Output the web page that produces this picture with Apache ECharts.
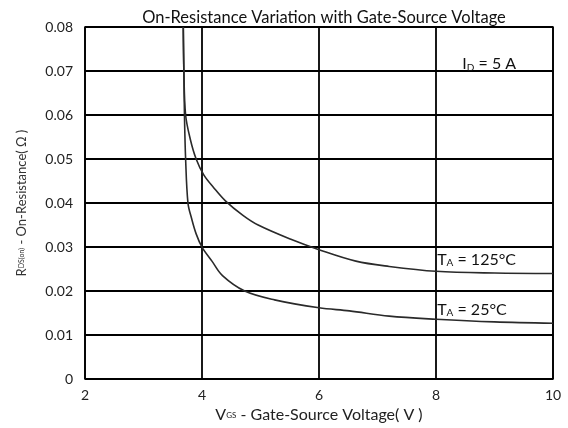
<!DOCTYPE html>
<html>
<head>
<meta charset="utf-8">
<script src="https://cdn.jsdelivr.net/npm/echarts@6/dist/echarts.min.js"></script>
<style>
  html, body { margin: 0; padding: 0; background: #fff; }
  #main { width: 568px; height: 428px; }
</style>
</head>
<body>
<div id="main"></div>
<script>
// curve readings: [Vgs (V), Rds(on) (ohm)]
var curve25 = [
	[3.68, 0.080], [3.69, 0.070], [3.70, 0.060], [3.72, 0.050], [3.76, 0.040],
	[3.82, 0.0366], [3.90, 0.0330], [4.00, 0.0300], [4.17, 0.0268], [4.35, 0.0235],
	[4.73, 0.0200], [5.24, 0.0180], [6.00, 0.0162], [6.52, 0.0155], [7.20, 0.0143],
	[8.00, 0.0136], [9.00, 0.0130], [10.0, 0.0127]
];
var curve125 = [
	[3.68, 0.080], [3.69, 0.070], [3.72, 0.060], [3.80, 0.0545], [3.90, 0.0500],
	[4.03, 0.0464], [4.20, 0.0435], [4.40, 0.0405], [4.70, 0.0372], [4.96, 0.0350],
	[5.53, 0.0317], [6.00, 0.0294], [6.63, 0.0268], [7.20, 0.0256], [8.00, 0.0245],
	[9.00, 0.0241], [10.0, 0.0240]
];
var xTicks = [2, 4, 6, 8, 10];
var yTicks = [0, 0.01, 0.02, 0.03, 0.04, 0.05, 0.06, 0.07, 0.08];

var chartTitle = 'On-Resistance Variation with Gate-Source Voltage';
var labelFont = 'Lato, "Open Sans", sans-serif';

function noteLabel(text) {
	return {
		show : true,
		position : 'right',
		distance : 0,
		formatter : text,
		color : '#111',
		fontFamily : labelFont,
		fontSize : 16,
		rich : {
			sub : { fontSize : 10, verticalAlign : 'bottom', padding : [ 7, 0, 0, 0 ], color : '#111', fontFamily : labelFont }
		}
	};
}

function makeCurve(name, data, noteCoord, noteText) {
	return {
		name : name,
		type : 'line',
		data : data,
		showSymbol : false,
		smooth : 0.35,
		lineStyle : { color : '#2a2a2a', width : 1.6 },
		markPoint : {
			symbol : 'circle',
			symbolSize : 0,
			silent : true,
			data : [ { coord : noteCoord, label : noteLabel(noteText) } ]
		}
	};
}

var myChart = echarts.init(document.getElementById('main'));
var option = {
	animation : false,
	backgroundColor : '#fff',
	title : {
		text : chartTitle,
		left : 319,
		textAlign : 'center',
		top : 4,
		textStyle : { fontFamily : labelFont, fontSize : 16.5, fontWeight : 'normal', color : '#111' }
	},
	grid : {
		left : 85, right : 15, top : 27, bottom : 48,
		show : true, borderColor : '#000', borderWidth : 1.5
	},
	xAxis : {
		type : 'value',
		min : xTicks[0], max : xTicks[xTicks.length - 1], interval : 2,
		axisLine : { show : false },
		axisTick : { show : false },
		splitLine : { show : true, lineStyle : { color : '#000', width : 1.8 } },
		axisLabel : { color : '#222', fontFamily : labelFont, fontSize : 14, margin : 9 },
		name : 'V{s|GS} - Gate-Source Voltage( V )',
		nameLocation : 'middle',
		nameGap : 26,
		nameTextStyle : {
			color : '#222', fontFamily : labelFont, fontSize : 16,
			rich : { s : { fontSize : 8, color : '#222', fontFamily : labelFont } }
		}
	},
	yAxis : {
		type : 'value',
		min : yTicks[0], max : yTicks[yTicks.length - 1], interval : 0.01,
		axisLine : { show : false },
		axisTick : { show : false },
		splitLine : { show : true, lineStyle : { color : '#000', width : 1.8 } },
		axisLabel : {
			color : '#222', fontFamily : labelFont, fontSize : 14, margin : 12,
			formatter : function (v) { return v === 0 ? '0' : v.toFixed(2); }
		},
		name : 'R{s|DS(on)} - On-Resistance( Ω )',
		nameLocation : 'middle',
		nameGap : 57,
		nameTextStyle : {
			color : '#333', fontFamily : labelFont, fontSize : 13,
			rich : { s : { fontSize : 7, color : '#333', fontFamily : labelFont } }
		}
	},
	series : [
		makeCurve('25C', curve25, [8.02, 0.0158], 'T{sub|A} = 25°C'),
		makeCurve('125C', curve125, [8.02, 0.0272], 'T{sub|A} = 125°C'),
		{
			type : 'line',
			data : [],
			markPoint : {
				symbol : 'circle',
				symbolSize : 0,
				silent : true,
				data : [ { coord : [8.45, 0.0716], label : noteLabel('I{sub|D} = 5 A') } ]
			}
		}
	]
};
myChart.setOption(option);
</script>
</body>
</html>
